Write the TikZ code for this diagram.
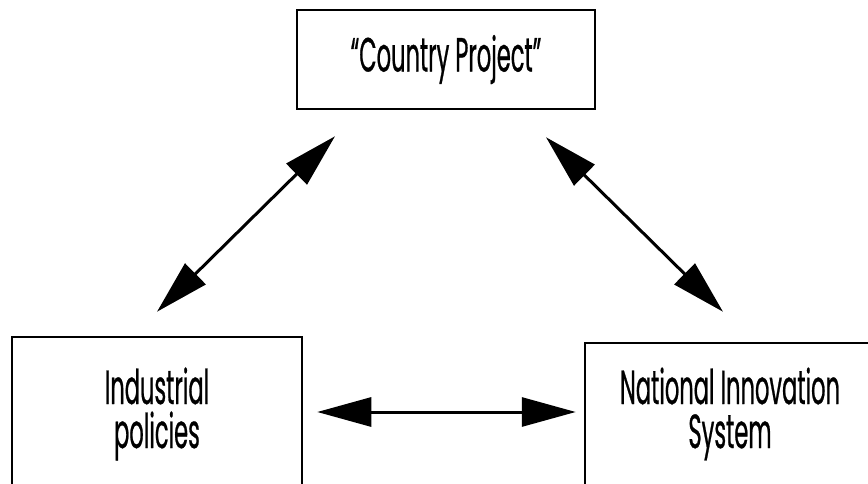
\documentclass[tikz,border=0pt]{standalone}
\usepackage{fontspec}
\setmainfont{Poppins}[FakeStretch=0.47, FakeBold=0.5]
\usetikzlibrary{positioning, arrows.meta, calc}
\definecolor{ink}{HTML}{000000}

\tikzset{
  frame/.style={draw=ink, line width=2.5pt, fill=white, align=center,
    font=\fontsize{48}{44}\selectfont, inner sep=0pt},
  both/.style={{Triangle[length=54pt, width=29pt]}-{Triangle[length=54pt, width=29pt]},
    line width=3pt, ink}
}

\begin{document}
\begin{tikzpicture}[x=1pt, y=-1pt]
    \useasboundingbox (0,0) rectangle (868,484);
    \clip (0,0) rectangle (868,484);
    \node[frame, minimum width=298pt, minimum height=99pt] (project) at (446,59.5) {“Country Project”};
    \node[frame, minimum width=290pt, minimum height=154pt] (policy) at (157,414) {Industrial\\policies};
    \node[frame, minimum width=290pt, minimum height=142pt] (nis) at (730,414) {National Innovation\\System};
    \draw[both] ($(policy.north)+(0,-24)$) -- ($(project.south)+(-111,26)$);
    \draw[both] ($(project.south)+(100,27)$) -- ($(nis.north)+(-7,-30)$);
    \draw[both] ($(policy.east)+(14,-2)$) -- ($(nis.west)+(-8,-2)$);
  \end{tikzpicture}
\end{document}
